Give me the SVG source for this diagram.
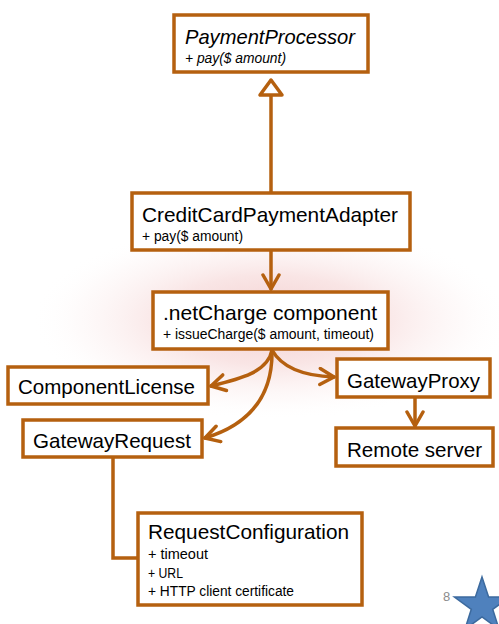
<svg xmlns="http://www.w3.org/2000/svg" width="499" height="624" viewBox="0 0 499 624">
<defs>
<radialGradient id="glow" cx="0.5" cy="0.5" r="0.5">
<stop offset="0" stop-color="#e59a9a" stop-opacity="0.5"/>
<stop offset="0.45" stop-color="#eeb5b5" stop-opacity="0.35"/>
<stop offset="0.8" stop-color="#f6d8d8" stop-opacity="0.12"/>
<stop offset="1" stop-color="#ffffff" stop-opacity="0"/>
</radialGradient>
<marker id="open" viewBox="0 0 20 20" refX="17" refY="10" markerWidth="20" markerHeight="20" markerUnits="userSpaceOnUse" orient="auto">
<path d="M3,2 L17,10 L3,18" fill="none" stroke="#b5600f" stroke-width="3.5" stroke-linecap="round" stroke-linejoin="round"/>
</marker>
</defs>
<style>
.box{fill:#ffffff;stroke:#b5600f;stroke-width:3.5}
.t{font-family:"Liberation Sans",Arial,sans-serif;font-size:21px;fill:#000}
.m{font-family:"Liberation Sans",Arial,sans-serif;font-size:14px;fill:#000}
.i{font-style:italic}
.c{fill:none;stroke:#b5600f;stroke-width:3.5;stroke-linecap:round}
</style>
<rect x="0" y="0" width="499" height="624" fill="#ffffff"/>
<ellipse cx="271" cy="320" rx="240" ry="100" fill="url(#glow)"/>
<g id="connectors">
<line class="c" x1="271" y1="95" x2="271" y2="193"/>
<polygon points="271,80 260,95 282,95" fill="#ffffff" stroke="#b5600f" stroke-width="3.5" stroke-linejoin="round"/>
<line class="c" x1="271" y1="250" x2="271" y2="289" marker-end="url(#open)"/>
<path class="c" d="M272,350 C268,372 240,379 211,386" marker-end="url(#open)"/>
<path class="c" d="M272,350 C273,398 248,425 205,438" marker-end="url(#open)"/>
<path class="c" d="M272,350 C282,368 305,376 334,377" marker-end="url(#open)"/>
<line class="c" x1="415" y1="397" x2="415" y2="426" marker-end="url(#open)"/>
<path class="c" d="M113,457 L113,558 L138,558" stroke-linecap="butt" stroke-linejoin="miter"/>
</g>
<g id="PaymentProcessor">
<rect class="box" x="174" y="15" width="194" height="57"/>
<text class="t i" x="185" y="44" textLength="170" lengthAdjust="spacingAndGlyphs">PaymentProcessor</text>
<text class="m i" x="185" y="63" textLength="101" lengthAdjust="spacingAndGlyphs">+ pay($ amount)</text>
</g>
<g id="CreditCardPaymentAdapter">
<rect class="box" x="132" y="193" width="278" height="57"/>
<text class="t" x="142" y="222" textLength="256" lengthAdjust="spacingAndGlyphs">CreditCardPaymentAdapter</text>
<text class="m" x="142" y="241" textLength="101" lengthAdjust="spacingAndGlyphs">+ pay($ amount)</text>
</g>
<g id="netCharge">
<rect class="box" x="153" y="292" width="235" height="57"/>
<text class="t" x="163" y="320" textLength="214" lengthAdjust="spacingAndGlyphs">.netCharge component</text>
<text class="m" x="163" y="339" textLength="211" lengthAdjust="spacingAndGlyphs">+ issueCharge($ amount, timeout)</text>
</g>
<g id="ComponentLicense">
<rect class="box" x="8" y="367" width="200" height="37"/>
<text class="t" x="18" y="394" textLength="177" lengthAdjust="spacingAndGlyphs">ComponentLicense</text>
</g>
<g id="GatewayRequest">
<rect class="box" x="23" y="420" width="179" height="37"/>
<text class="t" x="33" y="448" textLength="158" lengthAdjust="spacingAndGlyphs">GatewayRequest</text>
</g>
<g id="GatewayProxy">
<rect class="box" x="337" y="359" width="153" height="38"/>
<text class="t" x="347" y="388" textLength="133" lengthAdjust="spacingAndGlyphs">GatewayProxy</text>
</g>
<g id="RemoteServer">
<rect class="box" x="336" y="428" width="157" height="38"/>
<text class="t" x="347" y="457" textLength="135" lengthAdjust="spacingAndGlyphs">Remote server</text>
</g>
<g id="RequestConfiguration">
<rect class="box" x="138" y="513" width="224" height="92"/>
<text class="t" x="148" y="539" textLength="201" lengthAdjust="spacingAndGlyphs">RequestConfiguration</text>
<text class="m" x="148" y="559" textLength="60" lengthAdjust="spacingAndGlyphs">+ timeout</text>
<text class="m" x="148" y="578" textLength="35" lengthAdjust="spacingAndGlyphs">+ URL</text>
<text class="m" x="148" y="596" textLength="146" lengthAdjust="spacingAndGlyphs">+ HTTP client certificate</text>
</g>
<g id="footer">
<text x="443" y="601" font-family="Liberation Sans, Arial, sans-serif" font-size="13" fill="#8c8c8c">8</text>
<polygon points="482,577 488.6,596.9 509.6,597 492.7,609.3 499.1,629.3 482,617 464.9,629.3 471.3,609.3 454.4,597 475.4,596.9" fill="#4f81bd" stroke="#3c6a9e" stroke-width="1.5" stroke-linejoin="miter"/>
</g>
</svg>
